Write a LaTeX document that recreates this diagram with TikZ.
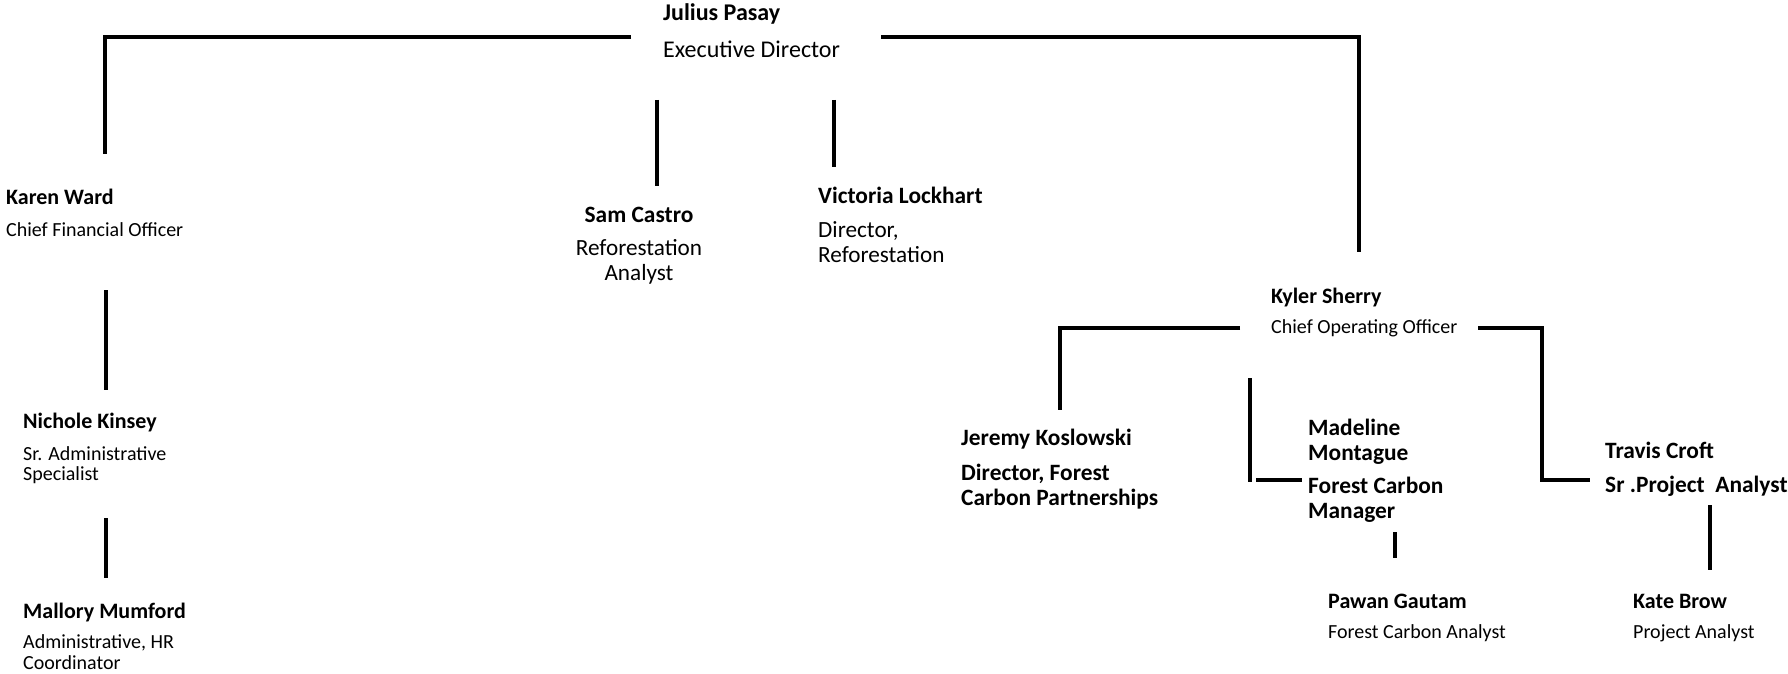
\documentclass[tikz,border=0pt]{standalone}
\usepackage{fontspec}
\setmainfont{Carlito}
\begin{document}
\begin{tikzpicture}[x=1pt,y=-1pt,
  conn/.style={line width=4.6pt,line join=miter,line cap=butt},
  txt/.style={inner sep=0pt,anchor=base west},
  ctxt/.style={inner sep=0pt,anchor=base},
  big/.style={font=\fontsize{24}{28}\selectfont},
  bigb/.style={font=\fontsize{24}{28}\selectfont\bfseries},
  nm/.style={font=\fontsize{22}{26}\selectfont\bfseries},
  mb/.style={font=\fontsize{23.4}{28}\selectfont\bfseries},
  tl/.style={font=\fontsize{23.2}{28}\selectfont},
  sm/.style={font=\fontsize{20}{24}\selectfont}]
\useasboundingbox (0,0) rectangle (1788,674);
% text
\node[txt,bigb] (jp) at (663,21) {Julius Pasay};
\node[txt,big] (jpt) at (663,58) {Executive Director};
\node[txt,nm] (kw) at (6,204) {Karen Ward};
\node[txt,sm] (kwt) at (6,236) {Chief Financial Officer};
\node[ctxt,mb] (sc) at (639,222) {Sam Castro};
\node[ctxt,tl] (sct1) at (639,255) {Reforestation};
\node[ctxt,tl] (sct2) at (639,280) {Analyst};
\node[txt,mb] (vl) at (818,203) {Victoria Lockhart};
\node[txt,tl] (vlt1) at (818,237) {Director,};
\node[txt,tl] (vlt2) at (818,262) {Reforestation};
\node[txt,nm] (nk) at (23,428) {Nichole Kinsey};
\node[txt,sm] (nkt1) at (23,460) {Sr. Administrative};
\node[txt,sm] (nkt2) at (23,480) {Specialist};
\node[txt,nm] (mm) at (23,618) {Mallory Mumford};
\node[txt,sm] (mmt1) at (23,648) {Administrative, HR};
\node[txt,sm] (mmt2) at (23,669) {Coordinator};
\node[txt,nm] (ks) at (1271,303) {Kyler Sherry};
\node[txt,sm] (kst) at (1271,333) {Chief Operating Officer};
\node[txt,mb] (jk) at (961,445) {Jeremy Koslowski};
\node[txt,mb] (jkt1) at (961,480) {Director, Forest};
\node[txt,mb] (jkt2) at (961,505) {Carbon Partnerships};
\node[txt,mb] (md1) at (1308,435) {Madeline};
\node[txt,mb] (md2) at (1308,460) {Montague};
\node[txt,mb] (mdt1) at (1308,493) {Forest Carbon};
\node[txt,mb] (mdt2) at (1308,518) {Manager};
\node[txt,mb] (tc) at (1605,458) {Travis Croft};
\node[txt,mb] (tct) at (1605,492) {Sr .Project\ \ Analyst};
\node[txt,nm] (pg) at (1328,608) {Pawan Gautam};
\node[txt,sm] (pgt) at (1328,638) {Forest Carbon Analyst};
\node[txt,nm] (kb) at (1633,608) {Kate Brow};
\node[txt,sm] (kbt) at (1633,638) {Project Analyst};
% connector end points
\coordinate (a1) at (631,37); \coordinate (a2) at (105,37); \coordinate (a3) at (105,154);
\coordinate (b1) at (881,37); \coordinate (b2) at (1359,37); \coordinate (b3) at (1359,252);
\coordinate (c1) at (657,100); \coordinate (c2) at (657,186);
\coordinate (d1) at (834,100); \coordinate (d2) at (834,167);
\coordinate (e1) at (106,290); \coordinate (e2) at (106,390);
\coordinate (f1) at (106,518); \coordinate (f2) at (106,578);
\coordinate (g1) at (1240,328); \coordinate (g2) at (1060,328); \coordinate (g3) at (1060,410);
\coordinate (h1) at (1478,328); \coordinate (h2) at (1542,328); \coordinate (h3) at (1542,480); \coordinate (h4) at (1590,480);
\coordinate (i1) at (1250,378); \coordinate (i2) at (1250,482);
\coordinate (j1) at (1256,480); \coordinate (j2) at (1302,480);
\coordinate (k1) at (1395,532); \coordinate (k2) at (1395,558);
\coordinate (l1) at (1710,505); \coordinate (l2) at (1710,570);
% connectors
\draw[conn] (a1) -- (a2) -- (a3);
\draw[conn] (b1) -- (b2) -- (b3);
\draw[conn] (c1) -- (c2);
\draw[conn] (d1) -- (d2);
\draw[conn] (e1) -- (e2);
\draw[conn] (f1) -- (f2);
\draw[conn] (g1) -- (g2) -- (g3);
\draw[conn] (h1) -- (h2) -- (h3) -- (h4);
\draw[conn] (i1) -- (i2);
\draw[conn] (j1) -- (j2);
\draw[conn] (k1) -- (k2);
\draw[conn] (l1) -- (l2);
\end{tikzpicture}
\end{document}
